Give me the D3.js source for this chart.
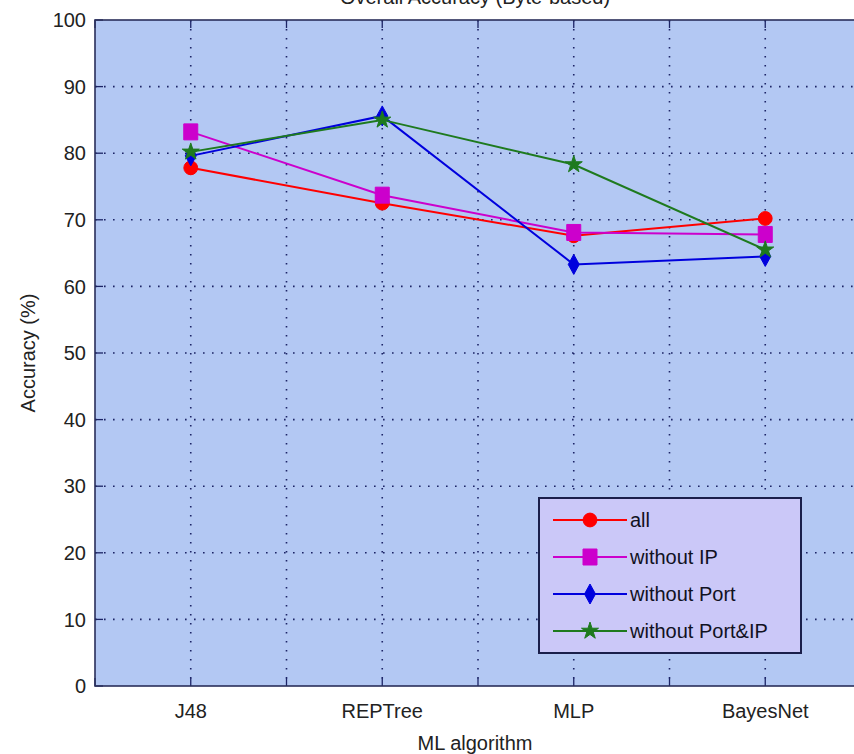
<!DOCTYPE html>
<html>
<head>
<meta charset="utf-8">
<script src="https://d3js.org/d3.v7.min.js"></script>
<style>
  body { margin: 0; background: #ffffff; }
  svg { display: block; }
  text { font-family: "Liberation Sans", Arial, sans-serif; fill: #222222; }
  .tick-label { font-size: 20px; }
  .axis-title { font-size: 20px; }
  .legend-label { font-size: 20px; fill: #111122; }
</style>
</head>
<body>
<div id="chart"></div>
<script>
// data
const algorithms = ["J48", "REPTree", "MLP", "BayesNet"];
const yTicks = [0, 10, 20, 30, 40, 50, 60, 70, 80, 90, 100];
const seriesNames = ["all", "without IP", "without Port", "without Port&IP"];
const allValues = [77.8, 72.5, 67.6, 70.2];
const withoutIP = [83.2, 73.7, 68.1, 67.8];
const withoutPort = [79.6, 85.6, 63.3, 64.5];
const withoutPortIP = [80.2, 85.0, 78.3, 65.5];

const seriesData = [
  { name: seriesNames[0], values: allValues, color: "#ff0000", marker: "circle" },
  { name: seriesNames[1], values: withoutIP, color: "#cc00cc", marker: "square" },
  { name: seriesNames[2], values: withoutPort, color: "#0000dd", marker: "diamond" },
  { name: seriesNames[3], values: withoutPortIP, color: "#1e7a1e", marker: "star" }
];

const width = 854, height = 754;
const plot = { left: 95, right: 861, top: 20, bottom: 686 };

const svg = d3.select("#chart").append("svg")
  .attr("width", width)
  .attr("height", height);

// x runs from 0.5 to 4.5 like the matlab xlim
const x = d3.scaleLinear().domain([0.5, 4.5]).range([plot.left, plot.right]);
const y = d3.scaleLinear().domain([0, 100]).range([plot.bottom, plot.top]);
const xGrid = d3.range(0.5, 4.51, 0.5);

// plot background
svg.append("rect")
  .attr("x", plot.left).attr("y", plot.top)
  .attr("width", plot.right - plot.left).attr("height", plot.bottom - plot.top)
  .attr("fill", "#b3c8f3");

// dotted grid
const grid = svg.append("g").attr("stroke", "#1c2466").attr("stroke-width", 1.6)
  .attr("stroke-dasharray", "1.6,7.4");
grid.selectAll("line.h").data(yTicks.slice(1, -1)).join("line")
  .attr("class", "h")
  .attr("x1", plot.left).attr("x2", plot.right)
  .attr("y1", d => y(d)).attr("y2", d => y(d));
grid.selectAll("line.v").data(xGrid.slice(1, -1)).join("line")
  .attr("class", "v")
  .attr("y1", plot.top).attr("y2", plot.bottom)
  .attr("x1", d => x(d)).attr("x2", d => x(d));

// tick marks (inward, on all visible sides)
const ticks = svg.append("g").attr("stroke", "#1c2466").attr("stroke-width", 1.3);
ticks.selectAll("line.yl").data(yTicks).join("line")
  .attr("x1", plot.left).attr("x2", plot.left + 8)
  .attr("y1", d => y(d)).attr("y2", d => y(d));
ticks.selectAll("line.xb").data(xGrid).join("line")
  .attr("y1", plot.bottom).attr("y2", plot.bottom - 8)
  .attr("x1", d => x(d)).attr("x2", d => x(d));
ticks.selectAll("line.xt").data(xGrid).join("line")
  .attr("y1", plot.top).attr("y2", plot.top + 8)
  .attr("x1", d => x(d)).attr("x2", d => x(d));

// axis frame
svg.append("rect")
  .attr("x", plot.left).attr("y", plot.top)
  .attr("width", plot.right - plot.left).attr("height", plot.bottom - plot.top)
  .attr("fill", "none").attr("stroke", "#2a2f5a").attr("stroke-width", 1.6);

// y tick labels
svg.selectAll("text.ylab").data(yTicks).join("text")
  .attr("class", "tick-label")
  .attr("x", plot.left - 9).attr("y", d => y(d))
  .attr("dy", "0.36em")
  .attr("text-anchor", "end")
  .text(d => d);

// x tick labels
svg.selectAll("text.xlab").data(algorithms).join("text")
  .attr("class", "tick-label")
  .attr("x", (d, i) => x(i + 1)).attr("y", plot.bottom + 32)
  .attr("text-anchor", "middle")
  .text(d => d);

// axis titles
svg.append("text").attr("class", "axis-title")
  .attr("x", 475).attr("y", 750).attr("text-anchor", "middle")
  .text("ML algorithm");
svg.append("text").attr("class", "axis-title")
  .attr("transform", `translate(35, ${(plot.top + plot.bottom) / 2}) rotate(-90)`)
  .attr("text-anchor", "middle")
  .text("Accuracy (%)");
// title mostly cut off at the top of the picture
svg.append("text").attr("class", "axis-title")
  .attr("x", 475).attr("y", 4).attr("text-anchor", "middle")
  .text("Overall Accuracy (Byte-based)");

// marker shapes
function markerPath(type) {
  if (type === "circle") return d3.symbol(d3.symbolCircle, 150)();
  if (type === "square") return "M-7,-8H7V8H-7Z";
  if (type === "diamond") return "M0,-10L5.5,0L0,10L-5.5,0Z";
  return d3.symbol(d3.symbolStar, 90)();
}

const line = d3.line().x((d, i) => x(i + 1)).y(d => y(d));

const series = svg.append("g").selectAll("g").data(seriesData).join("g");
series.append("path")
  .attr("fill", "none")
  .attr("stroke", d => d.color)
  .attr("stroke-width", 2)
  .attr("d", d => line(d.values));
series.selectAll("path.mk").data(d => d.values.map(v => ({ v, s: d }))).join("path")
  .attr("class", "mk")
  .attr("transform", (d, i) => `translate(${x(i + 1)},${y(d.v)})`)
  .attr("d", d => markerPath(d.s.marker))
  .attr("fill", d => d.s.color)
  .attr("stroke", d => d.s.color)
  .attr("stroke-width", 1);

// legend
const legend = svg.append("g").attr("transform", "translate(539,498)");
legend.append("rect")
  .attr("width", 262).attr("height", 155)
  .attr("fill", "#cbc8f8")
  .attr("stroke", "#1a1f4a").attr("stroke-width", 2);
const item = legend.selectAll("g.item").data(seriesData).join("g")
  .attr("class", "item")
  .attr("transform", (d, i) => `translate(0, ${22 + i * 37})`);
item.append("line")
  .attr("x1", 14).attr("x2", 88)
  .attr("stroke", d => d.color).attr("stroke-width", 2);
item.append("path")
  .attr("transform", "translate(51,0)")
  .attr("d", d => markerPath(d.marker))
  .attr("fill", d => d.color).attr("stroke", d => d.color);
item.append("text")
  .attr("class", "legend-label")
  .attr("x", 91).attr("dy", "0.36em")
  .text(d => d.name);
</script>
</body>
</html>
